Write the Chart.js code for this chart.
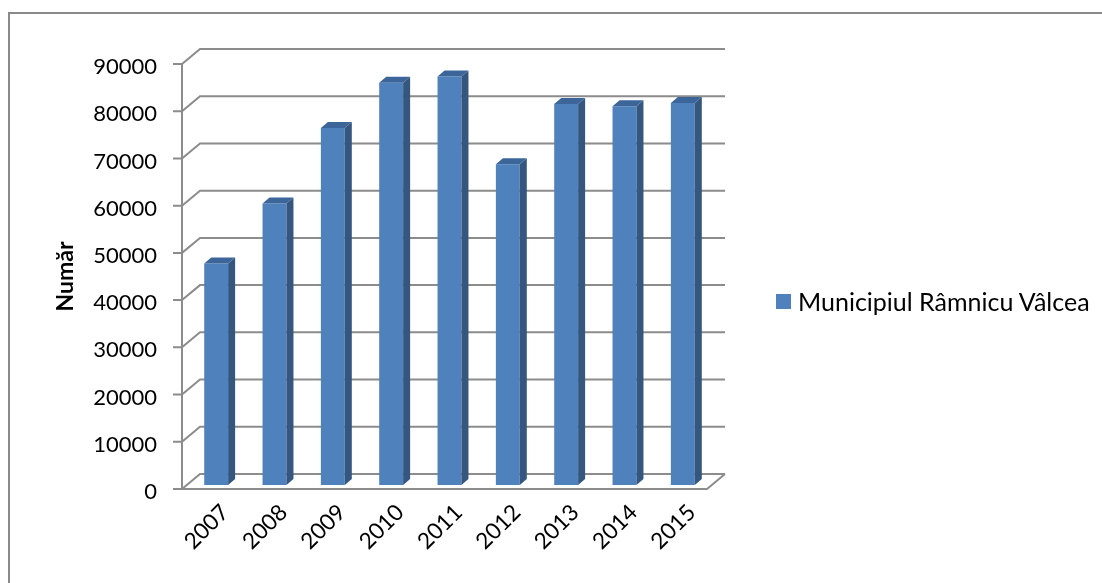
<!DOCTYPE html>
<html>
<head>
<meta charset="utf-8">
<script src="https://cdn.jsdelivr.net/npm/chart.js@4.4.1/dist/chart.umd.min.js"></script>
<style>
    html, body { margin: 0; padding: 0; background: #fff; overflow: hidden; }
    #wrap { position: relative; width: 1102px; height: 583px; overflow: hidden; }
    #frame { position: absolute; left: 8px; top: 12px; width: 1200px; height: 700px; border: 2px solid #8a8a8a; box-sizing: border-box; }
    #chart { position: absolute; left: 0; top: 0; }
    #legend { position: absolute; left: 776px; top: 286px; height: 30px; line-height: 30px; font-family: Lato, sans-serif; font-size: 25px; color: #000; display: flex; align-items: center; white-space: nowrap; }
    #legend .box { display: inline-block; width: 15px; height: 15px; background: #4F81BD; margin-right: 7px; }
</style>
</head>
<body>
<div id="wrap">
    <div id="frame"></div>
    <canvas id="chart" width="1102" height="583"></canvas>
    <div id="legend"><span class="box"></span><span id="legend-text"></span></div>
</div>
<script>
const years = ['2007', '2008', '2009', '2010', '2011', '2012', '2013', '2014', '2015'];
const values = [46900, 59600, 75600, 85200, 86500, 67900, 80700, 80200, 80900];
const yMin = 0;
const yMax = 90000;
const yStep = 10000;
const seriesName = 'Municipiul Râmnicu Vâlcea';
const axisTitle = 'Număr';

document.getElementById('legend-text').textContent = seriesName;

// offsets of the fake 3d box, relative to the plane the bars stand in
const FRONT = { dx: -5, dy: 4 };
const BACK = { dx: 13, dy: -11 };
const BAR_DEPTH = { dx: 7, dy: -6 };
const GRID_COLOR = '#8c8c8c';

const depth3d = {
    id: 'depth3d',
    beforeDatasetsDraw(chart) {
        const { ctx, chartArea: a, scales: { y } } = chart;
        const fl = a.left + FRONT.dx, fr = a.right + FRONT.dx;
        const ddx = BACK.dx - FRONT.dx, ddy = BACK.dy - FRONT.dy;
        ctx.save();
        ctx.strokeStyle = GRID_COLOR;
        ctx.lineWidth = 2;
        ctx.beginPath();
        y.ticks.forEach(t => {
            const py = y.getPixelForValue(t.value) + FRONT.dy;
            ctx.moveTo(fl - 9, py);
            ctx.lineTo(fl, py);
            ctx.lineTo(fl + ddx, py + ddy);
            ctx.lineTo(fr + ddx, py + ddy);
        });
        const top = y.getPixelForValue(yMax) + FRONT.dy;
        const p0 = y.getPixelForValue(yMin) + FRONT.dy;
        ctx.moveTo(fl, top);
        ctx.lineTo(fl, p0);
        ctx.lineTo(fr, p0);
        ctx.lineTo(fr + ddx, p0 + ddy);
        ctx.stroke();

        // axis title, centred on the front axis like excel does
        ctx.save();
        ctx.translate(65.5, (top + p0) / 2);
        ctx.rotate(-Math.PI / 2);
        ctx.font = 'bold 23px Lato, sans-serif';
        ctx.fillStyle = '#000';
        ctx.textAlign = 'center';
        ctx.textBaseline = 'middle';
        ctx.fillText(axisTitle, 0, 0);
        ctx.restore();
        ctx.restore();
    },
    afterDatasetsDraw(chart) {
        const { ctx } = chart;
        const meta = chart.getDatasetMeta(0);
        ctx.save();
        meta.data.forEach(bar => {
            const { x, y, base, width } = bar.getProps(['x', 'y', 'base', 'width'], true);
            const l = x - width / 2, r = x + width / 2;
            const dx = BAR_DEPTH.dx, dy = BAR_DEPTH.dy;
            ctx.fillStyle = '#34567F';
            ctx.beginPath();
            ctx.moveTo(r, y);
            ctx.lineTo(r + dx, y + dy);
            ctx.lineTo(r + dx, base + dy);
            ctx.lineTo(r, base);
            ctx.closePath();
            ctx.fill();
            ctx.fillStyle = '#3C669A';
            ctx.beginPath();
            ctx.moveTo(l, y);
            ctx.lineTo(l + dx, y + dy);
            ctx.lineTo(r + dx, y + dy);
            ctx.lineTo(r, y);
            ctx.closePath();
            ctx.fill();
        });
        ctx.restore();
    }
};

Chart.defaults.font.family = 'Lato, sans-serif';
Chart.defaults.color = '#000';

new Chart(document.getElementById('chart'), {
    type: 'bar',
    data: {
        labels: years,
        datasets: [{
            label: seriesName,
            data: values,
            backgroundColor: '#4F81BD',
            borderWidth: 0,
            barPercentage: 0.41,
            categoryPercentage: 1
        }]
    },
    options: {
        responsive: false,
        animation: false,
        layout: { padding: { left: 0, top: 60, right: 390, bottom: 0 } },
        plugins: {
            legend: { display: false },
            tooltip: { enabled: false }
        },
        scales: {
            x: {
                grid: { display: false, drawTicks: false },
                border: { display: false },
                ticks: {
                    autoSkip: false,
                    minRotation: 45,
                    maxRotation: 45,
                    padding: 14,
                    labelOffset: 9,
                    font: { size: 22.5 }
                },
                afterFit: s => { s.height = 98; }
            },
            y: {
                min: yMin,
                max: yMax,
                grid: { display: false, drawTicks: false },
                border: { display: false },
                ticks: {
                    stepSize: yStep,
                    padding: 30,
                    labelOffset: 7,
                    font: { size: 22 },
                    callback: v => String(v)
                },
                title: { display: false },
                afterFit: s => { s.width = 187; }
            }
        }
    },
    plugins: [depth3d]
});
</script>
</body>
</html>
